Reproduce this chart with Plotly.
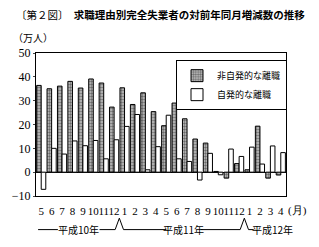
import plotly.graph_objects as go

months = ["5", "6", "7", "8", "9", "10", "11", "12",
          "1", "2", "3", "4", "5", "6", "7", "8", "9", "10", "11", "12",
          "1", "2", "3", "4"]
involuntary = [36.4, 35.0, 36.1, 38.1, 35.3, 39.1, 37.4, 27.3,
               35.4, 28.4, 33.3, 25.4, 19.5, 29.0, 22.4, 13.9, 12.2, 0.3, -2.5, 3.6,
               1.0, 19.3, -2.5, -1.2]
voluntary = [-7.2, 10.0, 7.6, 13.1, 11.1, 13.3, 5.6, 13.6,
             19.2, 24.2, 1.0, 10.7, 23.9, 5.6, 4.5, -3.3, 7.9, -1.1, 9.7, 6.6,
             10.5, 3.4, 11.0, 8.2]
series_names = ["非自発的な離職", "自発的な離職"]
title_text = "〔第２図〕　<b>求職理由別完全失業者の対前年同月増減数の推移</b>"
unit_text = "（万人）"
era_labels = ["平成10年", "平成11年", "平成12年"]

FONT = "Noto Sans CJK JP"
NUM = "Liberation Serif"
xs = list(range(len(months)))

fig = go.Figure()
fig.add_trace(go.Bar(
    x=xs, y=involuntary, name=series_names[0],
    marker=dict(color="#8a8a8a", line=dict(color="black", width=1),
                pattern=dict(shape=".", fgcolor="#111", bgcolor="#c4c4c4", size=3, solidity=0.5)),
))
fig.add_trace(go.Bar(
    x=xs, y=voluntary, name=series_names[1],
    marker=dict(color="white", line=dict(color="black", width=1)),
))

fig.update_layout(
    width=319, height=247,
    margin=dict(l=34, r=33, t=53, b=51),
    paper_bgcolor="white", plot_bgcolor="white",
    barmode="group", bargap=0.12, bargroupgap=0.0,
    font=dict(family=FONT, color="black", size=10),
    showlegend=True,
    legend=dict(x=0.56, y=0.95, xanchor="left", yanchor="top",
                bordercolor="black", borderwidth=1, bgcolor="white",
                font=dict(size=9, family=FONT), tracegroupgap=0,
                itemwidth=30),
)
fig.update_xaxes(
    range=[-0.5, len(months) - 0.5],
    tickmode="array", tickvals=xs, ticktext=months,
    showline=True, linecolor="black", linewidth=1, mirror=True,
    ticks="", showgrid=False, zeroline=False,
    tickfont=dict(size=11, family=NUM), tickangle=0,
    ticklabelstandoff=5,
)
fig.update_yaxes(
    range=[-10, 50], dtick=10,
    showline=True, linecolor="black", linewidth=1, mirror=True,
    ticks="outside", ticklen=2, showgrid=False,
    zeroline=True, zerolinecolor="black", zerolinewidth=1,
    tickfont=dict(size=12, family=NUM),
    tickformat="d",
)

# title and unit
fig.add_annotation(text=title_text, xref="paper", yref="paper", x=-0.09, y=1.27,
                   xanchor="left", yanchor="middle", showarrow=False,
                   font=dict(size=10.5, family=FONT, color="black"))
fig.add_annotation(text=unit_text, xref="paper", yref="paper", x=-0.1, y=1.11,
                   xanchor="left", yanchor="middle", showarrow=False,
                   font=dict(size=10, family=FONT, color="black"))
fig.add_annotation(text="(月)", xref="paper", yref="paper", x=1.0, y=-0.1,
                   xanchor="left", yanchor="middle", showarrow=False,
                   font=dict(size=11, family=NUM, color="black"))

# era line with peaks between December and January
ly = -0.235
py = -0.155
segs = [(-0.3, 1.6), (5.6, 7.1), (7.9, 12.0), (15.3, 19.1), (19.9, 20.4)]
for a, b in segs:
    fig.add_shape(type="line", xref="x", yref="paper", x0=a, x1=b, y0=ly, y1=ly,
                  line=dict(color="black", width=1))
for c in (7.5, 19.5):
    fig.add_shape(type="path", xref="x", yref="paper",
                  path=f"M {c-0.4},{ly} L {c},{py} L {c+0.4},{ly}",
                  line=dict(color="black", width=1))
for xc, lab in zip((3.6, 13.65, 22.2), era_labels):
    fig.add_annotation(text=lab, xref="x", yref="paper", x=xc, y=ly,
                       xanchor="center", yanchor="middle", showarrow=False,
                       font=dict(size=10, family=FONT, color="black"))

fig.write_html("out.html")
